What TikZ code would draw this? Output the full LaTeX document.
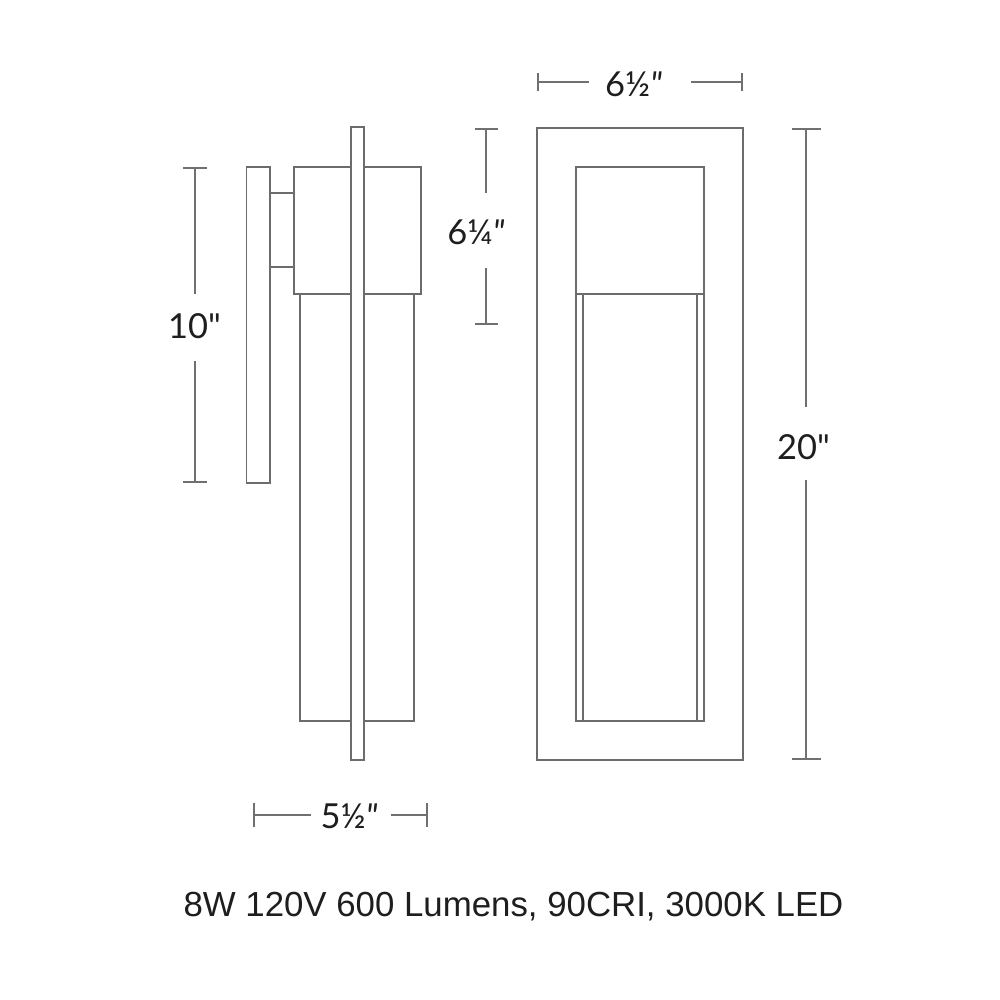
\documentclass[tikz,border=0pt]{standalone}
\usepackage{fontspec}
\usepackage{xcolor}
\setmainfont{Liberation Sans}
\newfontfamily\dimfont{Lato}
\usetikzlibrary{arrows.meta}
\definecolor{partline}{HTML}{6C6C6C}
\definecolor{dimline}{HTML}{707070}
\definecolor{inktext}{HTML}{1E1E1E}
\tikzset{
    part/.style={draw=partline, line width=0.5pt, fill=white},
    dim/.style={draw=dimline, line width=0.5pt},
    dimlabel/.style={text=inktext, inner sep=0pt, font=\dimfont\fontsize{9.8}{12}\selectfont},
}
\newcommand{\slantmark}{{\itshape"}}

\begin{document}
\begin{tikzpicture}[x=0.01cm, y=-0.01cm]
    \useasboundingbox (0,0) rectangle (1000,1000);
    \fill[white] (0,0) rectangle (1000,1000);

    % Side view: wall plate and the bracket behind the housing
    \draw[part] (246.5,167) rectangle (270,483);
    \draw[part] (270,193) rectangle (294,267);

    % Side view: glass, housing, then the fin on top of both
    \draw[part] (300,294) rectangle (414,721);
    \draw[part] (294,167) rectangle (421,294);
    \draw[part] (351,127) rectangle (364,760);

    % Front view: outer plate
    \draw[part] (537,128) rectangle (743,760);

    % Front view: glass with its two inner edges, and the head
    \draw[part] (576,294) rectangle (704,721);
    \draw[part] (583,294) -- (583,721);
    \draw[part] (697,294) -- (697,721);
    \draw[part] (576,167) rectangle (704,294);

    % Labels of the dimensions
    \node[dimlabel] (widthFront) at (633.5,84) {6½\slantmark};
    \node[dimlabel] (depthSide) at (349,816) {5½\slantmark};
    \node[dimlabel] (heightHead) at (476,232) {6¼\slantmark};
    \node[dimlabel] (heightPlate) at (194.5,326) {10"};
    \node[dimlabel] (heightAll) at (803.5,447) {20"};

    % Ends of the dimension lines
    \coordinate (widthFrontA) at (537,82);
    \coordinate (widthFrontB) at (589,82);
    \coordinate (widthFrontC) at (691,82);
    \coordinate (widthFrontD) at (743,82);
    \coordinate (depthSideA) at (253,815);
    \coordinate (depthSideB) at (311,815);
    \coordinate (depthSideC) at (391,815);
    \coordinate (depthSideD) at (428,815);
    \coordinate (heightHeadA) at (486,128);
    \coordinate (heightHeadB) at (486,193);
    \coordinate (heightHeadC) at (486,268);
    \coordinate (heightHeadD) at (486,325);
    \coordinate (heightPlateA) at (195,167);
    \coordinate (heightPlateB) at (195,294);
    \coordinate (heightPlateC) at (195,361);
    \coordinate (heightPlateD) at (195,483);
    \coordinate (heightAllA) at (806,128);
    \coordinate (heightAllB) at (806,407);
    \coordinate (heightAllC) at (806,480);
    \coordinate (heightAllD) at (806,760);

    % Horizontal dimension lines
    \draw[dim, {Bar[width=1.8mm]}-] (widthFrontA) -- (widthFrontB);
    \draw[dim, -{Bar[width=1.8mm]}] (widthFrontC) -- (widthFrontD);
    \draw[dim, {Bar[width=2.4mm]}-] (depthSideA) -- (depthSideB);
    \draw[dim, -{Bar[width=2.4mm]}] (depthSideC) -- (depthSideD);

    % Vertical dimension lines
    \draw[dim, {Bar[width=2.3mm]}-] (heightHeadA) -- (heightHeadB);
    \draw[dim, -{Bar[width=2.3mm]}] (heightHeadC) -- (heightHeadD);
    \draw[dim, {Bar[width=2.3mm]}-] (heightPlateA) -- (heightPlateB);
    \draw[dim, -{Bar[width=2.3mm]}] (heightPlateC) -- (heightPlateD);
    \draw[dim, {Bar[width=2.9mm]}-] (heightAllA) -- (heightAllB);
    \draw[dim, -{Bar[width=2.9mm]}] (heightAllC) -- (heightAllD);

    % Specification line at the bottom
    \node[text=inktext, inner sep=0pt, font=\fontsize{9.9}{12}\selectfont] (specLine) at (513.5,907) {8W 120V 600 Lumens, 90CRI, 3000K LED};
\end{tikzpicture}
\end{document}
